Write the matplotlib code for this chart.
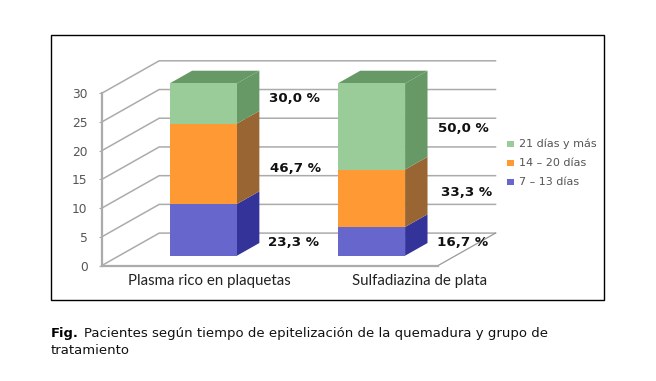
import matplotlib
matplotlib.use('Agg')
import matplotlib.pyplot as plt
from matplotlib.patches import Polygon, Rectangle
from matplotlib.lines import Line2D

W, H = 656, 381
plt.rcParams['font.family'] = ['DejaVu Sans']

# datos
grupos = ['Plasma rico en plaquetas', 'Sulfadiazina de plata']
series = ['7 – 13 días', '14 – 20 días', '21 días y más']
dias_7_13 = [9, 5]
dias_14_20 = [14, 10]
dias_21 = [7, 15]
porcentajes = ['23,3 %', '46,7 %', '30,0 %', '16,7 %', '33,3 %', '50,0 %']
ticks_y = [0, 5, 10, 15, 20, 25, 30]

colores = ['#6666cc', '#ff9933', '#99cc99']
oscuros = ['#333399', '#996633', '#669966']
gris = '#ababab'

# desplazamiento oblicuo (fondo del "3D") en unidades de datos
DX = 57.5 / 168.15
DY = 32.5 * 30 / 172.3


def proy(x, y, d):
    return (x + DX * d, y + DY * d)


def px(x, y):
    return x / W, 1 - y / H


fig = plt.figure(figsize=(W / 100, H / 100), dpi=100, facecolor='white')
# marco exterior
fig.add_artist(Rectangle(px(50.5, 300), 553 / W, 265 / H, transform=fig.transFigure,
                         fill=False, edgecolor='black', linewidth=1))

ax = fig.add_axes([101.7 / W, 1 - 265.6 / H, 336.3 / W, 172.3 / H])
ax.set_xlim(-0.5, 1.5)
ax.set_ylim(0, 30)
ax.patch.set_visible(False)
for s in ['top', 'right']:
    ax.spines[s].set_visible(False)
for s in ['left', 'bottom']:
    ax.spines[s].set_color(gris)
    ax.spines[s].set_linewidth(1.6)

ax.set_yticks(ticks_y)
ax.tick_params(axis='y', length=2, color=gris, pad=8.2, labelsize=8.8, labelcolor='#555555')
ax.set_xticks([0.138, 1.393])
ax.set_xticklabels(grupos, fontfamily='Lato', fontsize=10.8, color='#222222')
ax.tick_params(axis='x', length=0, pad=6)

# paredes y rejilla
for v in ticks_y:
    x0, y0 = proy(-0.5, v, 0)
    x1, y1 = proy(-0.5, v, 1)
    x2, y2 = proy(1.5, v, 1)
    ax.add_line(Line2D([x0, x1, x2], [y0, y1, y2], color=gris, lw=1.1, clip_on=False, zorder=1))
# borde derecho del suelo
x0, y0 = proy(1.5, 0, 0)
x1, y1 = proy(1.5, 0, 1)
ax.add_line(Line2D([x0, x1], [y0, y1], color='#999999', lw=0.9, clip_on=False, zorder=1))

# barras apiladas
ancho = 0.4
d0, d1 = 0.305, 0.695
for i in range(len(grupos)):
    base = 0
    x_i = i - ancho / 2
    x_d = i + ancho / 2
    for vals, c, o in zip([dias_7_13, dias_14_20, dias_21], colores, oscuros):
        alto = base + vals[i]
        frente = [proy(x_i, base, d0), proy(x_d, base, d0), proy(x_d, alto, d0), proy(x_i, alto, d0)]
        lado = [proy(x_d, base, d0), proy(x_d, base, d1), proy(x_d, alto, d1), proy(x_d, alto, d0)]
        ax.add_patch(Polygon(lado, facecolor=o, edgecolor='none', clip_on=False, zorder=3))
        ax.add_patch(Polygon(frente, facecolor=c, edgecolor='none', clip_on=False, zorder=4))
        base = alto
    tapa = [proy(x_i, base, d0), proy(x_d, base, d0), proy(x_d, base, d1), proy(x_i, base, d1)]
    ax.add_patch(Polygon(tapa, facecolor=oscuros[2], edgecolor='none', clip_on=False, zorder=3))

# etiquetas de porcentaje
pos_pct = [(293, 243), (296, 169), (294, 99), (463, 243), (467, 192), (463, 128)]
for t, (x, y) in zip(porcentajes, pos_pct):
    fx, fy = px(x, y)
    fig.text(fx, fy, t, ha='center', va='center', fontsize=9.6, fontweight='bold', color='#111111')

# leyenda
pos_ley = [182, 163, 144]
for t, c, y in zip(series, colores, pos_ley):
    fig.add_artist(Rectangle(px(507, y + 3), 7 / W, 6 / H, transform=fig.transFigure,
                             facecolor=c, edgecolor='none'))
    fx, fy = px(519, y)
    fig.text(fx, fy, t, ha='left', va='center', fontsize=8, color='#555555')

# pie de figura
fx, fy = px(51, 333)
fig.text(fx, fy, 'Fig.', ha='left', va='center', fontsize=9.4, fontweight='bold', color='black')
fx, fy = px(84, 333)
fig.text(fx, fy, 'Pacientes según tiempo de epitelización de la quemadura y grupo de',
         ha='left', va='center', fontsize=9.55, color='#111111')
fx, fy = px(51, 350)
fig.text(fx, fy, 'tratamiento', ha='left', va='center', fontsize=9.55, color='#111111')

fig.savefig('out.png', dpi=100)
